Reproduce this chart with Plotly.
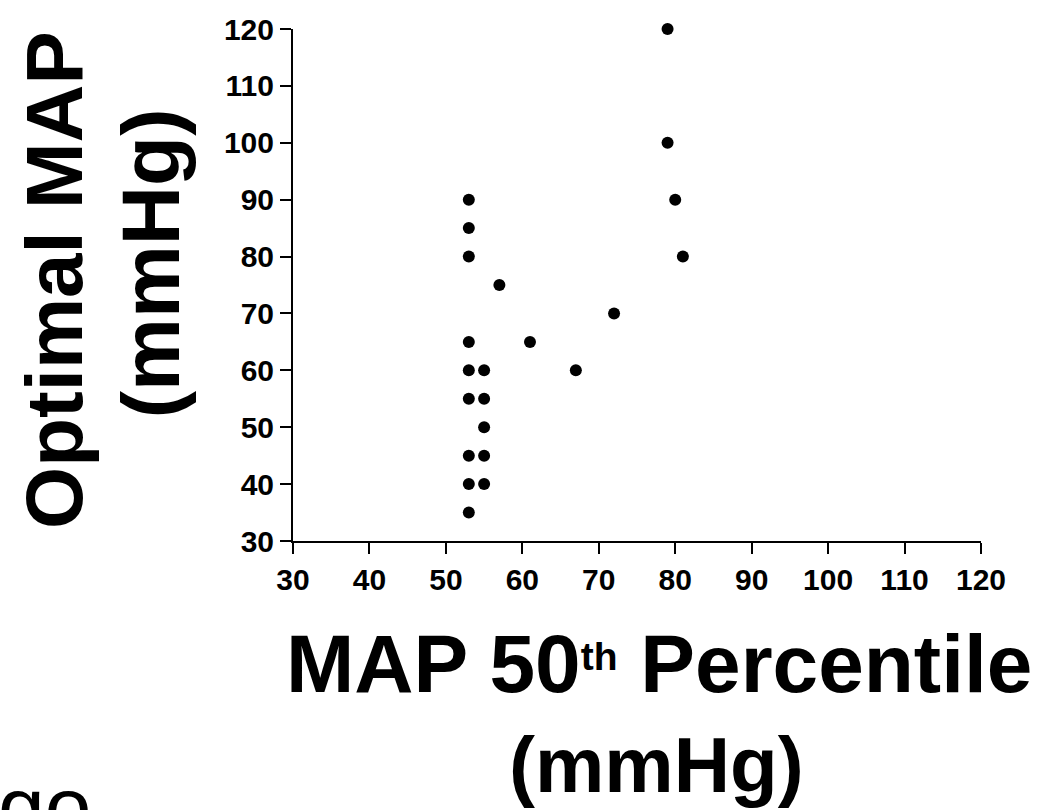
import plotly.graph_objects as go

# Data
map_50th = [79, 79, 80, 81, 72, 61, 67, 57,
            53, 53, 53, 53, 53, 53, 53, 53, 53,
            55, 55, 55, 55, 55]
optimal_map = [120, 100, 90, 80, 70, 65, 60, 75,
               90, 85, 80, 65, 60, 55, 45, 40, 35,
               60, 55, 50, 45, 40]
tick_vals = [30, 40, 50, 60, 70, 80, 90, 100, 110, 120]

W, H = 1048, 810
L, R, T, B = 293, 981, 23, 541

def px(x):
    return (x - L) / (R - L)

def py(y):
    return (B - y) / (B - T)

TITLE_FONT = "Liberation Sans, Arial, sans-serif"
TICK_FONT = "Liberation Sans Narrow, Arial Narrow, Liberation Sans, Arial, sans-serif"

fig = go.Figure()
fig.add_trace(go.Scatter(
    x=map_50th, y=optimal_map, mode="markers",
    marker=dict(color="black", size=12, symbol="circle"),
    cliponaxis=False, showlegend=False, hoverinfo="x+y",
))

axis_common = dict(
    range=[30, 120], tickvals=tick_vals, ticktext=[str(v) for v in tick_vals],
    showgrid=False, zeroline=False, showline=True, linecolor="black",
    linewidth=2, ticks="outside", ticklen=11, tickwidth=2, tickcolor="black",
    tickfont=dict(family=TICK_FONT, size=30, color="black", weight="bold"),
    fixedrange=True,
)
fig.update_xaxes(**axis_common)
fig.update_yaxes(**axis_common)

ann = []
ann.append(dict(text="<b>Optimal MAP</b>", textangle=-90, x=px(54), y=py(277),
                xref="paper", yref="paper", xanchor="center", yanchor="middle",
                showarrow=False, font=dict(family=TITLE_FONT, size=80, color="black")))
ann.append(dict(text="<b>(mmHg)</b>", textangle=-90, x=px(150), y=py(260),
                xref="paper", yref="paper", xanchor="center", yanchor="middle",
                showarrow=False, font=dict(family=TITLE_FONT, size=82, color="black")))
ann.append(dict(text="<b>MAP 50<span style=\"font-size:39px;baseline-shift:22px\">th</span> Percentile</b>",
                x=px(659), y=py(665),
                xref="paper", yref="paper", xanchor="center", yanchor="middle",
                showarrow=False, font=dict(family=TITLE_FONT, size=82, color="black")))
ann.append(dict(text="<b>(mmHg)</b>", x=px(656), y=py(768),
                xref="paper", yref="paper", xanchor="center", yanchor="middle",
                showarrow=False, font=dict(family=TITLE_FONT, size=78, color="black")))
ann.append(dict(text="go", x=px(-4), y=py(761),
                xref="paper", yref="paper", xanchor="left", yanchor="top",
                showarrow=False, font=dict(family=TITLE_FONT, size=84, color="black")))

fig.update_layout(
    width=W, height=H, autosize=False,
    margin=dict(l=L, r=W - R, t=T, b=H - B, pad=0),
    plot_bgcolor="white", paper_bgcolor="white",
    annotations=ann,
)

fig.write_html("out.html", config={"displayModeBar": False})
